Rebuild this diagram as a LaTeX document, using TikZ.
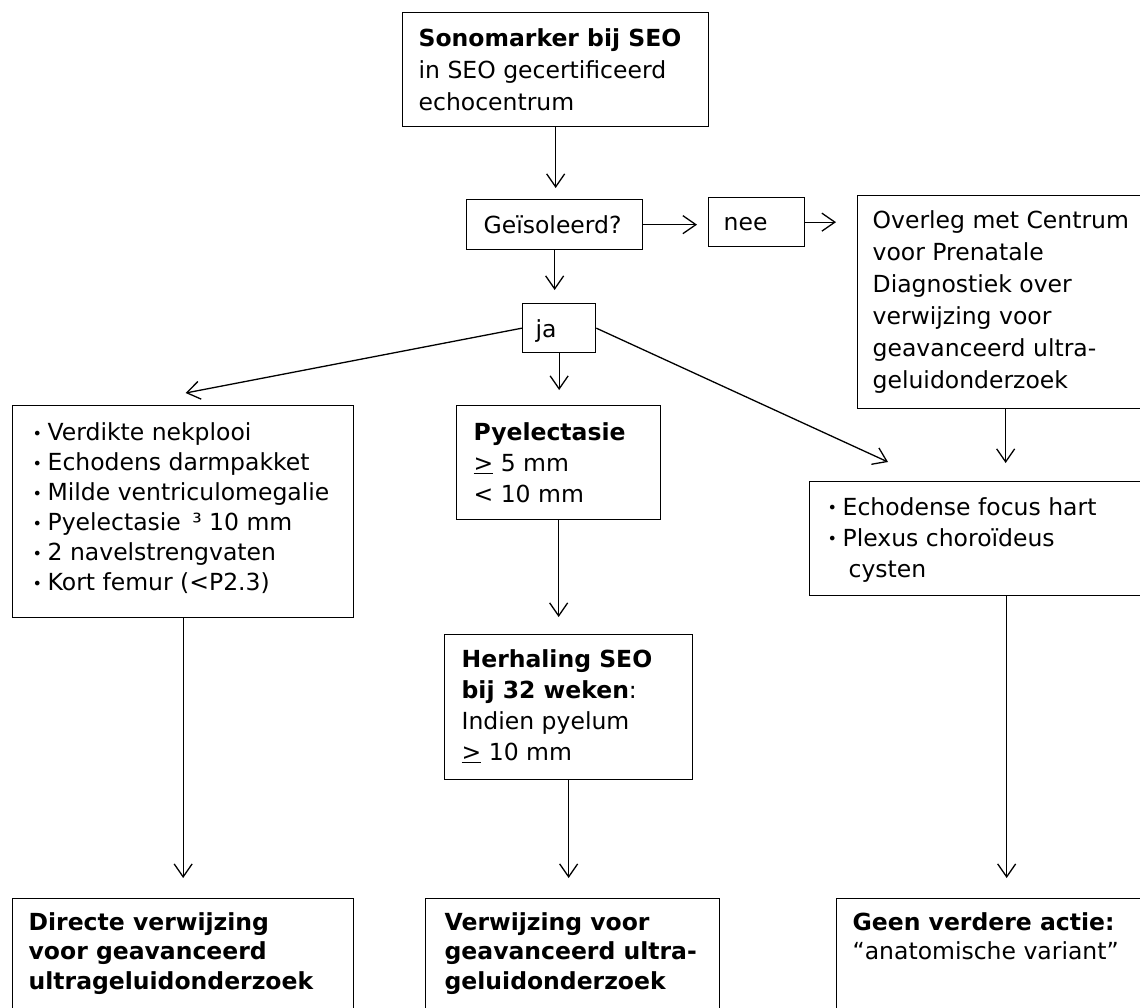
\documentclass[tikz,border=0pt]{standalone}
\usepackage{fontspec}
\setmainfont{DejaVu Sans}
\usetikzlibrary{arrows.meta,calc}
\newcommand{\bxt}[3]{\parbox[c][#2pt][t]{#1pt}{\raggedright\strut #3}}
\newcommand{\bul}{\makebox[15pt][l]{\fontsize{16}{16}\selectfont\raisebox{1.5pt}{•}}}
\tikzset{
  bx/.style 2 args={draw, line width=1.3pt, anchor=north west, inner xsep=#1, inner ysep=#2,
    font=\fontsize{23.5}{31}\selectfont},
  arr/.style={-{Straight Barb[length=13pt,width=18pt]}, line width=1.3pt},
}
\begin{document}
\begin{tikzpicture}[x=1pt,y=-1pt]
\useasboundingbox (0,0) rectangle (1140,1007);
\fill[white] (0,0) rectangle (1140,1007);
\clip (0,0) rectangle (1140,1007);

\node[bx={16pt}{11pt}, font=\fontsize{23.5}{32}\selectfont] (top) at (402,12)
  {\bxt{274}{92}{\textbf{Sonomarker bij SEO}\\in SEO gecertificeerd\\echocentrum}};
\node[bx={17pt}{12pt}] (geis) at (466,199) {\bxt{142}{26}{Geïsoleerd?}};
\node[bx={15pt}{11pt}] (nee) at (708,197) {\bxt{66}{27}{nee}};
\node[bx={15pt}{10pt}, font=\fontsize{23.5}{32}\selectfont] (overleg) at (857,195)
  {\bxt{266}{193}{Overleg met Centrum\\voor Prenatale\\Diagnostiek over\\verwijzing voor\\geavanceerd ultra-\\geluidonderzoek}};
\node[bx={13pt}{12pt}] (ja) at (522,303) {\bxt{47}{25}{ja}};
\node[bx={20pt}{14pt}, font=\fontsize{23.5}{30}\selectfont] (left) at (12,405)
  {\bxt{301}{184}{\bul Verdikte nekplooi\\\bul Echodens darmpakket\\\bul Milde ventriculomegalie\\\bul Pyelectasie \,³ 10 mm\\\bul 2 navelstrengvaten\\\bul Kort femur (<P2.3)}};
\node[bx={17pt}{13pt}] (pyel) at (456,405)
  {\bxt{170}{88}{\textbf{Pyelectasie}\\\underline{>} 5 mm\\< 10 mm}};
\node[bx={17pt}{11pt}] (herh) at (444,634)
  {\bxt{214}{123}{\textbf{Herhaling SEO}\\\textbf{bij 32 weken}:\\Indien pyelum\\\underline{>} 10 mm}};
\node[bx={18pt}{12pt}] (echo) at (809,481)
  {\bxt{358}{90}{\bul Echodense focus hart\\\bul Plexus choroïdeus\\\hspace*{21pt}cysten}};
\node[bx={16pt}{11pt}, font=\fontsize{23.5}{29.5}\selectfont] (bleft) at (12,898)
  {\bxt{309}{130}{\textbf{Directe verwijzing}\\\textbf{voor geavanceerd}\\\textbf{ultrageluidonderzoek}}};
\node[bx={19pt}{11pt}, font=\fontsize{23.5}{29.5}\selectfont] (bmid) at (425,898)
  {\bxt{256}{130}{\textbf{Verwijzing voor}\\\textbf{geavanceerd ultra-}\\\textbf{geluidonderzoek}}};
\node[bx={16pt}{11pt}, font=\fontsize{23.5}{29.5}\selectfont] (bright) at (836,898)
  {\bxt{308}{130}{\textbf{Geen verdere actie:}\\“anatomische variant”}};

\draw[arr, shorten >=11pt] (top.south) -- (top.south |- geis.north);
\draw[arr, shorten >=11pt] (geis.east) -- (geis.east -| nee.west);
\draw[arr, shorten >=21pt] (nee.east) -- (nee.east -| overleg.west);
\draw[arr, shorten >=13pt] (geis.south) -- (geis.south |- ja.north);
\draw[arr, shorten >=15pt] (ja.south) -- (ja.south |- pyel.north);
\draw[arr] (ja.west) -- ($(left.north)+(2.5,-12)$);
\draw[arr] (ja.east) -- ($(echo.north west)+(79,-19)$);
\draw[arr, shorten >=17pt] (pyel.south) -- (pyel.south |- herh.north);
\draw[arr, shorten >=18pt] (overleg.south) -- (overleg.south |- echo.north);
\draw[arr, shorten >=20pt] (left.south) -- (left.south |- bleft.north);
\draw[arr, shorten >=20pt] (herh.south) -- (herh.south |- bmid.north);
\draw[arr, shorten >=20pt] (echo.south) -- (echo.south |- bright.north);
\end{tikzpicture}
\end{document}
